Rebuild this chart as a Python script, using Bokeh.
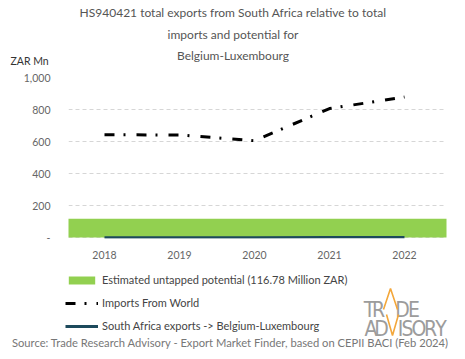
from bokeh.plotting import figure
from bokeh.layouts import column
from bokeh.models import (Range1d, FixedTicker, CustomJSTickFormatter,
                          Legend, LegendItem)
from bokeh.core.properties import value
from bokeh.embed import file_html
from bokeh.resources import INLINE

# ---- data ----
years = [2018, 2019, 2020, 2021, 2022]
imports_world = [642, 641, 605, 806, 878]
sa_exports = [0.4, 0.6, 0.3, 1.5, 1.2]
untapped_potential = 116.78
y_ticks = [0, 200, 400, 600, 800, 1000]

title_lines = ["HS940421 total exports from South Africa relative to total",
               "imports and potential for",
               "Belgium-Luxembourg"]
y_unit = "ZAR Mn"
legend_labels = ["Estimated untapped potential (116.78 Million ZAR)",
                 "Imports From World",
                 "South Africa exports -> Belgium-Luxembourg"]
source_text = "Source: Trade Research Advisory - Export Market Finder, based on CEPII BACI (Feb 2024)"

FONT = "Lato"
GREEN = "#92d050"
DARK = "#1d4a5c"
ORANGE = "#f3a73b"
W = 465


def blank(height):
    f = figure(width=W, height=height, output_backend="svg", toolbar_location=None,
               x_range=Range1d(0, W), y_range=Range1d(height, 0),
               x_axis_type=None, y_axis_type=None,
               min_border=0, min_border_left=0, min_border_right=0,
               min_border_top=0, min_border_bottom=0, frame_align=False)
    f.outline_line_color = None
    f.xgrid.visible = False
    f.ygrid.visible = False
    return f

# ---------- top: title ----------
top = blank(70)
top.text(x=[W / 2] * 3, y=[12, 33.5, 55.2], text=title_lines,
         text_font=value(FONT), text_font_size="12px", text_color="#555555",
         text_align="center", text_baseline="middle")
top.text(x=[10], y=[60.7], text=[y_unit], text_font=value(FONT),
         text_font_size="10.5px", text_color="#333333",
         text_align="left", text_baseline="middle")

# ---------- main chart ----------
p = figure(width=W, height=193, output_backend="svg", toolbar_location=None,
           x_range=Range1d(years[0] - 0.48, years[-1] + 0.56),
           y_range=Range1d(-6, 1000),
           min_border_left=68, min_border_right=19,
           min_border_top=7, min_border_bottom=25, frame_align=False)
p.outline_line_color = None

p.xaxis.ticker = FixedTicker(ticks=years)
p.yaxis.ticker = FixedTicker(ticks=y_ticks)
p.yaxis.formatter = CustomJSTickFormatter(
    code="return tick == 0 ? '-' : tick.toLocaleString('en-US');")
for ax in (p.xaxis[0], p.yaxis[0]):
    ax.axis_line_color = None
    ax.major_tick_line_color = None
    ax.minor_tick_line_color = None
    ax.major_tick_out = 0
    ax.major_tick_in = 0
    ax.minor_tick_out = 0
    ax.major_label_text_font = FONT
    ax.major_label_text_font_size = "10.5px"
    ax.major_label_text_color = "#666666"
p.xaxis.major_label_standoff = 12
p.yaxis.major_label_standoff = 18

p.xgrid.grid_line_color = None
p.ygrid.grid_line_color = "#d6d6d6"
p.ygrid.grid_line_dash = "4 3"

p.quad(left=years[0] - 0.5, right=years[-1] + 0.6, bottom=0,
       top=untapped_potential, fill_color=GREEN, line_color=None)
p.line(years, imports_world, line_color="black", line_width=3,
       line_dash="10 9 2 11")
p.line(years, sa_exports, line_color=DARK, line_width=2.5)

# ---------- bottom: legend, logo, source ----------
bot = blank(96)
# legend proxies (kept outside the visible range)
r_band = bot.quad(left=[-50], right=[-40], bottom=[0], top=[1], fill_color=GREEN, line_color=None)
r_imp = bot.line(x=[-50, -40], y=[0, 0], line_color="black", line_width=3, line_dash="10 9 2 10")
r_exp = bot.line(x=[-50, -40], y=[0, 0], line_color=DARK, line_width=3)
legend = Legend(items=[LegendItem(label=lab, renderers=[r])
                       for lab, r in zip(legend_labels, [r_band, r_imp, r_exp])],
                location=(65, 27), orientation="vertical")
legend.glyph_width = 33
legend.glyph_height = 10
legend.label_height = 12
legend.spacing = 10
legend.padding = 0
legend.margin = 0
legend.label_standoff = 4
legend.border_line_color = None
legend.background_fill_alpha = 0
legend.label_text_font = FONT
legend.label_text_font_size = "11px"
legend.label_text_color = "#444444"
bot.add_layout(legend, "center")

# logo
LOGO_FONT = "'Liberation Sans Narrow', 'DejaVu Sans Condensed', Roboto"
top_letters = ["T", "R", "D", "E"]
top_x = [369, 378, 402, 413.5]
low_letters = ["A", "D", "I", "S", "O", "R", "Y"]
low_x = [370.5, 381, 400, 407, 418.5, 430, 440.5]
bot.text(x=top_x, y=[46] * len(top_x), text=top_letters, text_font=value(LOGO_FONT),
         text_font_size="21px", text_color="#9c9c9c", text_align="center",
         text_baseline="alphabetic")
bot.text(x=low_x, y=[65] * len(low_x), text=low_letters, text_font=value(LOGO_FONT),
         text_font_size="21px", text_color="#9c9c9c", text_align="center",
         text_baseline="alphabetic")
bot.multi_line(xs=[[383, 390, 397], [386, 392, 398]], ys=[[46, 25, 46], [51, 72, 51]],
               line_color=ORANGE, line_width=1.6)

bot.text(x=[230], y=[79], text=[source_text], text_font=value(FONT),
         text_font_size="11.2px", text_color="#777777", text_align="center",
         text_baseline="middle")

layout = column(top, p, bot, spacing=0)
out = open("out.html", "w")
out.write(file_html(layout, INLINE))
out.close()
